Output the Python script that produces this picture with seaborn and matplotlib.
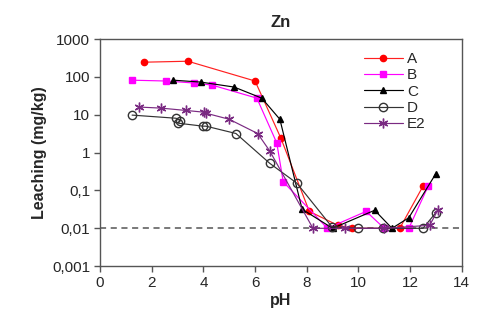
import numpy as np
import pandas as pd
import matplotlib
matplotlib.use("Agg")
import matplotlib.pyplot as plt
import seaborn as sns
from matplotlib.ticker import FixedLocator, NullLocator

# values
ph_a = [1.7, 3.4, 6.0, 7.0, 8.1, 9.2, 9.75, 11.0, 11.6, 12.5]
zn_a = [245, 260, 78, 2.4, 0.028, 0.012, 0.01, 0.01, 0.01, 0.13]

ph_b = [1.24, 2.55, 3.64, 4.33, 6.07, 6.84, 7.09, 8.8, 10.3, 11.0, 11.95, 12.7]
zn_b = [82, 78, 69, 61, 27.5, 1.8, 0.17, 0.01, 0.028, 0.01, 0.01, 0.13]

ph_c = [2.84, 3.9, 5.19, 6.26, 6.96, 7.82, 9.0, 10.63, 11.3, 11.95, 13.0]
zn_c = [82, 73, 54, 27.5, 7.6, 0.032, 0.01, 0.03, 0.01, 0.019, 0.28]

ph_d = [1.24, 2.94, 3.1, 3.02, 3.98, 4.1, 5.26, 6.57, 7.62, 8.97, 9.98, 10.95, 12.5, 13.0]
zn_d = [9.8, 8.1, 7.0, 6.0, 5.0, 5.0, 3.2, 0.52, 0.155, 0.011, 0.01, 0.01, 0.01, 0.026]

ph_e = [1.5, 2.36, 3.33, 4.02, 4.1, 5.0, 6.1, 6.57, 8.24, 9.5, 11.0, 12.76, 13.07]
zn_e = [16, 15, 13, 11.7, 11, 7.6, 3.2, 1.1, 0.01, 0.01, 0.01, 0.012, 0.03]

limit = 0.01
y_ticks = [0.001, 0.01, 0.1, 1, 10, 100, 1000]
y_labels = ["0,001", "0,01", "0,1", "1", "10", "100", "1000"]

sns.set_style("white")
plt.rcParams['font.family'] = ['Liberation Sans', 'DejaVu Sans']

fig = plt.figure(figsize=(4.81, 3.23), dpi=100)
ax = fig.add_axes([0.208, 0.176, 0.752, 0.703])

series = [
    ("A", ph_a, zn_a, dict(color="#ff2020", marker="o", ms=4.5, mfc="#ff0000", mec="#ff0000")),
    ("B", ph_b, zn_b, dict(color="#ff00ff", marker="s", ms=5, mfc="#ff00ff", mec="#ff00ff")),
    ("C", ph_c, zn_c, dict(color="black", marker="^", ms=5, mfc="black", mec="black")),
    ("D", ph_d, zn_d, dict(color="#333333", marker="o", ms=6, mfc="none", mec="#333333")),
    ("E2", ph_e, zn_e, dict(color="#7a2a82", marker=(6, 2, 0), ms=7, mfc="#7a2a82", mec="#7a2a82")),
]

for name, xs, ys, st in series:
    df = pd.DataFrame({"pH": xs, "Zn": ys})
    sns.lineplot(data=df, x="pH", y="Zn", ax=ax, sort=False, label=name,
                 color=st["color"], marker=st["marker"], markersize=st["ms"],
                 markerfacecolor=st["mfc"], markeredgecolor=st["mec"],
                 markeredgewidth=1.0, linewidth=0.85)

ax.axhline(limit, color="#555555", linestyle=(0, (4, 3)), linewidth=1.1, zorder=0)

ax.set_yscale("log")
ax.set_xlim(0, 14)
ax.set_ylim(0.001, 1000)
ax.set_xticks(range(0, 15, 2))
ax.yaxis.set_major_locator(FixedLocator(y_ticks))
ax.yaxis.set_minor_locator(NullLocator())
ax.set_yticklabels(y_labels)

for side in ["top", "right", "left", "bottom"]:
    ax.spines[side].set_visible(True)
    ax.spines[side].set_color("#555555")
    ax.spines[side].set_linewidth(1.0)

ax.tick_params(axis="both", direction="out", length=4, width=1, color="#555555",
               labelsize=11, pad=3, left=True, bottom=True)

ax.set_xlabel("pH", fontsize=11.5, fontweight="bold", labelpad=2)
ax.set_ylabel("Leaching (mg/kg)", fontsize=11.5, fontweight="bold", labelpad=4)
ax.set_title("Zn", fontsize=12, fontweight="bold", pad=9)

ax.legend(loc="upper right", bbox_to_anchor=(0.93, 0.99), frameon=False, fontsize=11,
          handlelength=2.5, handletextpad=0.3, labelspacing=0.15, borderaxespad=0.3)

fig.savefig("out.png", dpi=100)
